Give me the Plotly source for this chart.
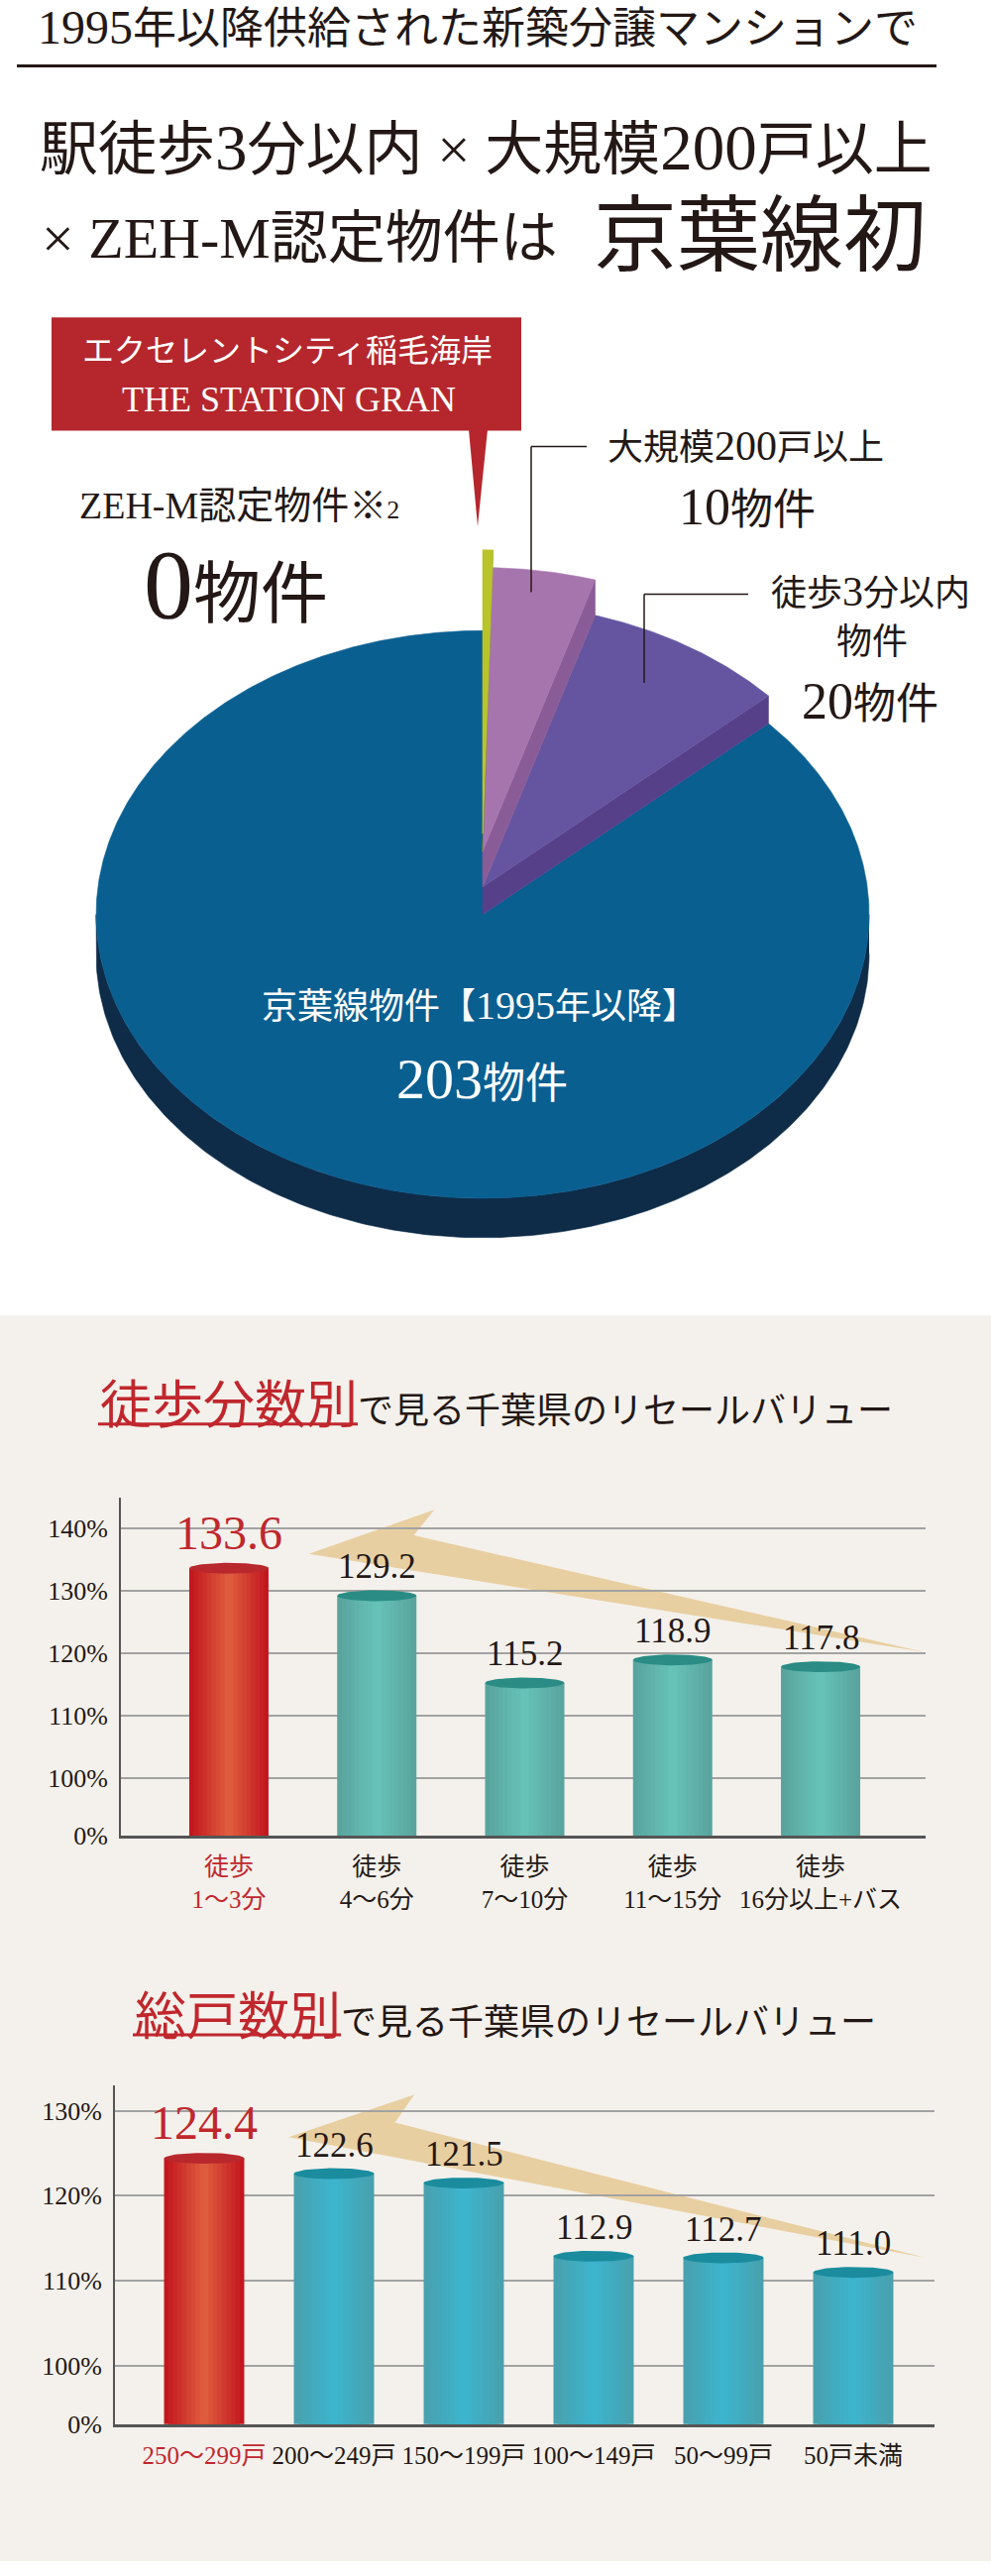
import re
import numpy as np
import plotly.graph_objects as go

W, H = 1000, 2599

# ---------------- data ----------------
headline_1 = "1995年以降供給された新築分譲マンションで"
headline_2 = "駅徒歩3分以内 × 大規模200戸以上"
headline_3a = "× ZEH-M認定物件は"
headline_3b = "京葉線初"

featured_name = "エクセレントシティ稲毛海岸"
featured_name_en = "THE STATION GRAN"

pie_total = 203      # 京葉線物件【1995年以降】
pie_walk3 = 20       # 徒歩3分以内物件
pie_large = 10       # 大規模200戸以上
pie_zeh = 0          # ZEH-M認定物件※2
pie_featured = 1     # the featured property (thin sliver)

walk_title_red = "徒歩分数別"
units_title_red = "総戸数別"
title_rest = "で見る千葉県のリセールバリュー"

walk_categories = ["徒歩 1〜3分", "徒歩 4〜6分", "徒歩 7〜10分", "徒歩 11〜15分", "徒歩 16分以上+バス"]
walk_values = [133.6, 129.2, 115.2, 118.9, 117.8]
walk_grid = [100, 110, 120, 130, 140]

units_categories = ["250〜299戸", "200〜249戸", "150〜199戸", "100〜149戸", "50〜99戸", "50戸未満"]
units_values = [124.4, 122.6, 121.5, 112.9, 112.7, 111.0]
units_grid = [100, 110, 120, 130]

# ---------------- style ----------------
FONT = "Liberation Serif, Noto Sans CJK JP, serif"
INK = "#231815"
RED = "#c0272d"
BEIGE = "#f4f1ec"


def dig(s, size):
    return re.sub(r"([0-9][0-9.]*)",
                  lambda m: f"<span style='font-size:{size}px'>{m.group(1)}</span>", s)


def hex2rgb(h):
    h = h.lstrip("#")
    return tuple(int(h[i:i + 2], 16) for i in (0, 2, 4))


def mix(c1, c2, t):
    a, b = hex2rgb(c1), hex2rgb(c2)
    return "rgb(%d,%d,%d)" % tuple(round(a[i] + (b[i] - a[i]) * t) for i in range(3))


fig = go.Figure()
shapes = []
annotations = []

# background of lower section
shapes.append(dict(type="rect", xref="paper", yref="paper", x0=0, x1=1,
                   y0=0, y1=1 - 1335 / H, fillcolor=BEIGE, line=dict(width=0), layer="below"))

# ---------------- top section (pixel-space axis x3/y3) ----------------
def ann3(x, y, text, size, color=INK, xanchor="center", yanchor="middle"):
    annotations.append(dict(x=x, y=y, xref="x3", yref="y3", text=text, showarrow=False,
                            font=dict(family=FONT, size=size, color=color),
                            xanchor=xanchor, yanchor=yanchor))


ann3(482, 28, dig(headline_1, 48), 44)
shapes.append(dict(type="line", xref="x3", yref="y3", x0=17, x1=945, y0=67, y1=67,
                   line=dict(color=INK, width=3)))
ann3(38, 150, dig(headline_2, 65), 59, xanchor="left")
ann3(40, 242, headline_3a, 58, xanchor="left")
ann3(597, 240, headline_3b, 84, xanchor="left")

# pie geometry (style)
PCX, PCY, PRX, PRY, PDEPTH = 487, 928, 390, 288, 40
LIFT_WALK, LIFT_LARGE, LIFT_FEAT = 28, 64, 82

# slice angles from the counts (clockwise from 12 o'clock: featured, large, walk, rest)
pie_sum = pie_total + pie_walk3 + pie_large + pie_featured + pie_zeh
a_feat = (pie_featured + pie_zeh) / pie_sum * 360
a_large = a_feat + pie_large / pie_sum * 360
a_walk = a_large + pie_walk3 / pie_sum * 360


def ell_pt(theta, lift=0.0):
    t = np.radians(theta)
    return PCX + PRX * np.sin(t), PCY - lift - PRY * np.cos(t)


def wedge_xy(a0, a1, lift=0.0):
    th = np.linspace(a0, a1, max(10, int(abs(a1 - a0) * 3)))
    x, y = ell_pt(th, lift)
    return np.r_[PCX, x, PCX], np.r_[PCY - lift, y, PCY - lift]


def side_xy(a, lo, hi):
    xo, ylo = ell_pt(a, lo)
    _, yhi = ell_pt(a, hi)
    return [PCX, xo, xo, PCX, PCX], [PCY - lo, ylo, yhi, PCY - hi, PCY - lo]


def poly(x, y, color):
    fig.add_trace(go.Scatter(x=x, y=y, mode="lines", fill="toself", fillcolor=color,
                             line=dict(width=0.6, color=color), xaxis="x3", yaxis="y3",
                             hoverinfo="skip"))


# blue side band (front half)
th = np.linspace(90, 270, 240)
bx, by = ell_pt(th)
poly(np.r_[bx, bx[::-1]], np.r_[by, (by + PDEPTH)[::-1]], "#0e2c48")
# blue top
poly(*wedge_xy(a_walk, 360), "#0a5f91")
# purple (walk 3 min)
poly(*side_xy(a_walk, 0, LIFT_WALK), "#56408a")
poly(*wedge_xy(a_large, a_walk, LIFT_WALK), "#6555a1")
# mauve (large scale)
poly(*side_xy(a_large, LIFT_WALK, LIFT_LARGE), "#8a5c97")
poly(*wedge_xy(a_feat, a_large, LIFT_LARGE), "#a775ae")
# featured sliver
poly(*side_xy(a_feat, LIFT_LARGE, LIFT_FEAT), "#7f8c1c")
poly(*wedge_xy(0, a_feat, LIFT_FEAT), "#b9c42b")

# callout
shapes.append(dict(type="rect", xref="x3", yref="y3", x0=52, x1=526, y0=322, y1=437,
                   fillcolor="#b5272d", line=dict(width=0)))
shapes.append(dict(type="path", xref="x3", yref="y3",
                   path="M 473 436 L 492 436 L 482 534 Z", fillcolor="#b5272d",
                   line=dict(width=0)))
ann3(290, 356, featured_name, 32, color="white")
ann3(291, 405, featured_name_en, 36, color="white")

# leader lines
for (x0, y0, x1, y1) in [(536, 453, 592, 453), (536, 453, 536, 601),
                         (650, 603, 755, 603), (650, 603, 650, 693)]:
    shapes.append(dict(type="line", xref="x3", yref="y3", x0=x0, y0=y0, x1=x1, y1=y1,
                       line=dict(color=INK, width=1.5)))

# pie labels
ann3(241, 513, "ZEH-M認定物件※<span style='font-size:26px'>2</span>", 38)
ann3(238, 593, f"<span style='font-size:100px'>{pie_zeh}</span>物件", 68)
ann3(752, 453, dig("大規模200戸以上", 42), 36)
ann3(754, 514, f"<span style='font-size:52px'>{pie_large}</span>物件", 43)
ann3(878, 600, dig("徒歩3分以内", 42), 36)
ann3(880, 652, "物件", 36)
ann3(878, 712, f"<span style='font-size:52px'>{pie_walk3}</span>物件", 43)
ann3(484, 1020, dig("京葉線物件【1995年以降】", 40), 36, color="white")
ann3(486, 1095, f"<span style='font-size:58px'>{pie_total}</span>物件", 43, color="white")


# ---------------- bar charts ----------------
def add_cylinders(values, xa, ya, width, ry, edge, mid, top, hedge, hmid, htop, n_layers=9):
    xs = list(range(len(values)))
    for k in range(n_layers):
        frac = 1 - k / n_layers
        t = k / (n_layers - 1)
        cols = [mix(hedge, hmid, t) if i == 0 else mix(edge, mid, t) for i in xs]
        fig.add_trace(go.Bar(x=xs, y=values, width=width * frac,
                             marker=dict(color=cols, line=dict(width=0)),
                             xaxis=xa, yaxis=ya, hoverinfo="skip"))
    tt = np.linspace(0, 2 * np.pi, 72)
    for i, v in enumerate(values):
        c = htop if i == 0 else top
        fig.add_trace(go.Scatter(x=i + width / 2 * np.cos(tt), y=v + ry * np.sin(tt),
                                 mode="lines", fill="toself", fillcolor=c,
                                 line=dict(width=0, color=c), xaxis=xa, yaxis=ya,
                                 hoverinfo="skip"))


def value_labels(values, xref, yref, big, small):
    for i, v in enumerate(values):
        annotations.append(dict(
            x=i, y=v, xref=xref, yref=yref, text=f"{v:.1f}", showarrow=False,
            yshift=36 if i == 0 else 29, yanchor="middle",
            font=dict(family=FONT, size=big if i == 0 else small, color=RED if i == 0 else INK)))


def arrow(xref, yref, pts, color="#e8cfa1"):
    p = "M " + " L ".join(f"{x:.3f} {y:.3f}" for x, y in pts) + " Z"
    shapes.append(dict(type="path", xref=xref, yref=yref, path=p, fillcolor=color,
                       line=dict(width=0), layer="below"))


def title(y_px, x_px, red, rest, red_size=52, size=36):
    annotations.append(dict(
        x=x_px / W, y=1 - y_px / H, xref="paper", yref="paper", showarrow=False,
        xanchor="left", yanchor="middle",
        text=f"<span style='color:{RED};font-size:{red_size}px'>{red}</span>{rest}",
        font=dict(family=FONT, size=size, color=INK)))
    shapes.append(dict(type="line", xref="paper", yref="paper",
                       x0=x_px / W, x1=(x_px + red_size * len(red) + 2) / W,
                       y0=1 - (y_px + 18) / H, y1=1 - (y_px + 18) / H,
                       line=dict(color=RED, width=3)))


# chart 1: walking minutes
W_BASE = 90.67
title(1427, 99, walk_title_red, title_rest)
n1 = len(walk_values)
arrow("x", "y", [(0.54, walk_values[0] + 2.3), (1.39, walk_values[0] + 9.4),
                 (1.25, walk_values[0] + 5.3), (n1 - 1 + 0.69, walk_values[-1] + 2.4)])
add_cylinders(walk_values, "x", "y", 0.536, 0.87,
              "#59a49e", "#66c1b7", "#2a8c84", "#c3171f", "#de5b3d", "#b8282d")
value_labels(walk_values, "x", "y", 48, 35)

walk_ticktext = []
for i, c in enumerate(walk_categories):
    a, b = c.split(" ", 1)
    if i == 0:
        walk_ticktext.append(f"<span style='color:{RED}'>{a}</span><br><span style='color:{RED}'>{b}</span>")
    else:
        walk_ticktext.append(f"{a}<br>{b}")

# chart 2: total units
U_BASE = 93.16
title(2047, 134, units_title_red, title_rest)
n2 = len(units_values)
arrow("x2", "y2", [(0.65, units_values[0] + 2.5), (1.62, units_values[0] + 7.5),
                   (1.47, units_values[0] + 4.2), (n2 - 1 + 0.56, units_values[-1] + 1.7)])
add_cylinders(units_values, "x2", "y2", 0.618, 0.64,
              "#48a1ae", "#3db4cd", "#1a8c9e", "#c3171f", "#de5b3d", "#b8282d")
value_labels(units_values, "x2", "y2", 48, 35)

units_ticktext = [f"<span style='color:{RED}'>{c}</span>" if i == 0 else c
                  for i, c in enumerate(units_categories)]

common_x = dict(showgrid=False, zeroline=False, showline=True, linecolor="#555555",
                linewidth=3, ticks="", tickangle=0, fixedrange=True,
                ticklabelstandoff=7)
common_y = dict(showgrid=True, gridcolor="#a2a2a2", gridwidth=2, zeroline=False,
                showline=True, linecolor="#555555", linewidth=2, ticks="",
                tickfont=dict(family=FONT, size=26, color=INK), fixedrange=True,
                ticklabelstandoff=6)

fig.update_layout(
    width=W, height=H, margin=dict(l=0, r=0, t=0, b=0), autosize=False,
    paper_bgcolor="white", plot_bgcolor="rgba(0,0,0,0)", showlegend=False,
    barmode="overlay",
    xaxis=dict(domain=[122 / W, 934 / W], range=[-0.73, 4.71], anchor="y",
               tickvals=list(range(n1)), ticktext=walk_ticktext,
               tickfont=dict(family=FONT, size=25, color=INK), **common_x),
    yaxis=dict(domain=[1 - 1863 / H, 1 - 1520 / H], range=[W_BASE, 144.9], anchor="x",
               tickvals=[W_BASE] + walk_grid,
               ticktext=["0%"] + [f"{v}%" for v in walk_grid], **common_y),
    xaxis2=dict(domain=[116 / W, 943 / W], range=[-0.687, 5.626], anchor="y2",
                tickvals=list(range(n2)), ticktext=units_ticktext,
                tickfont=dict(family=FONT, size=25, color=INK), **common_x),
    yaxis2=dict(domain=[1 - 2460 / H, 1 - 2116 / H], range=[U_BASE, 133.0], anchor="x2",
                tickvals=[U_BASE] + units_grid,
                ticktext=["0%"] + [f"{v}%" for v in units_grid], **common_y),
    xaxis3=dict(domain=[0, 1], range=[0, W], anchor="y3", visible=False, fixedrange=True),
    yaxis3=dict(domain=[1 - 1330 / H, 1], range=[1330, 0], anchor="x3", visible=False,
                fixedrange=True),
    shapes=shapes,
    annotations=annotations,
)

fig.write_html("out.html")
